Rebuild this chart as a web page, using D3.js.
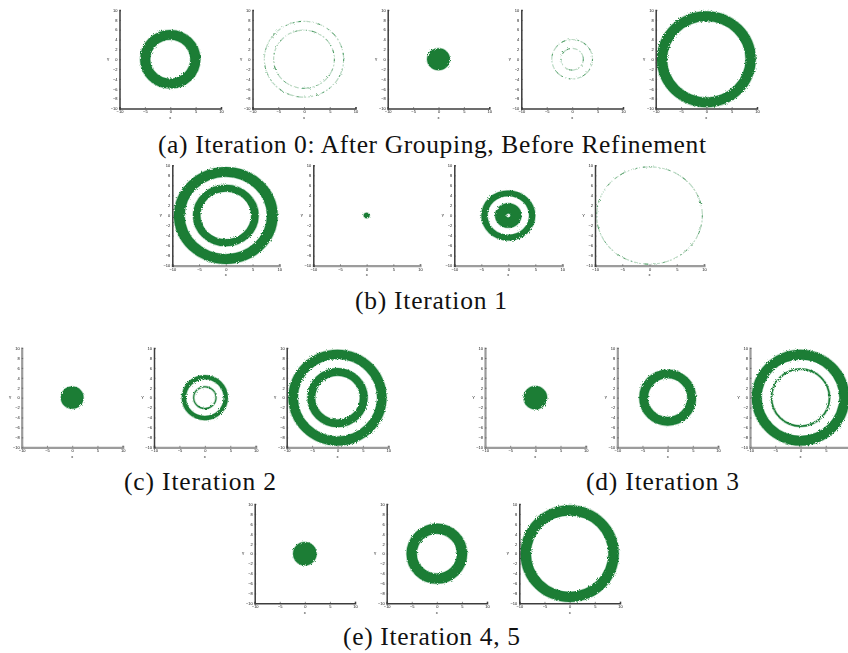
<!DOCTYPE html>
<html>
<head>
<meta charset="utf-8">
<script src="https://cdn.jsdelivr.net/npm/d3@7"></script>
<style>
	body { margin: 0; background: #fff; }
	svg { display: block; }
	.tick text { font-family: "Liberation Sans", sans-serif; }
</style>
</head>
<body>
<main></main>
<script>
const xTicks = [-10, -5, 0, 5, 10];
const yTicks = [-10, -8, -6, -4, -2, 0, 2, 4, 6, 8, 10];

// [inner, outer] radius of the solid bands, one list per panel
const denseBands = [
	[[3.95, 5.95]], [], [[0, 2.25]], [], [[7.75, 9.75]],
	[[7.7, 9.65], [4.75, 6.15]], [[0, 0.55]], [[3.85, 5.0], [0.4, 2.45]], [],
	[[0, 2.25]], [[3.7, 4.55], [2.1, 2.3]], [[7.8, 9.65], [4.4, 5.95]],
	[[0, 2.35]], [[3.9, 5.65]], [[7.7, 9.65], [5.6, 5.9]],
	[[0, 2.35]], [[4.0, 6.05]], [[7.7, 9.75]]
];

// radius of the thin, sparsely filled rings
const sparseRadii = [
	[], [5.9, 7.7], [], [2.2, 4.0], [],
	[], [], [], [9.7],
	[], [], [],
	[], [], [],
	[], [], []
];

const captions = [
	"(a) Iteration 0: After Grouping, Before Refinement",
	"(b) Iteration 1",
	"(c) Iteration 2",
	"(d) Iteration 3",
	"(e) Iteration 4, 5"
];

// layout of the page: left, right, top, bottom of every panel, and its axis look
const dark = {color: "#3c3c3c", width: 1.5};
const grey = {color: "#9c9c9c", width: 2.2};
const panels = [
	[119.5, 221, 10, 108.5, dark, dark], [252.5, 355.5, 10, 108.5, dark, dark], [387.7, 489.3, 10, 108.5, dark, dark], [521.3, 623, 10, 108.5, dark, dark], [655.7, 757, 10, 108.5, dark, dark],
	[172.3, 279.3, 165.3, 265.7, dark, grey], [313.3, 420, 165.3, 265.7, dark, grey], [454.3, 562.3, 165.3, 265.7, dark, grey], [595, 704, 165.3, 265.7, dark, grey],
	[21.7, 122.7, 348, 447.3, grey, grey], [154, 255.7, 348, 447.3, dark, grey], [286.7, 388.3, 348, 447.3, dark, grey],
	[485, 585.7, 348, 447.3, grey, grey], [617.3, 718, 348, 447.3, grey, grey], [750, 851, 348, 447.3, grey, grey],
	[254.7, 355, 504, 603.3, dark, dark], [386.7, 487, 504, 603.3, dark, dark], [519.3, 620, 504, 603.3, dark, dark]
];
const captionLayout = [
	{x: 158, len: 548, y: 153},
	{x: 355, len: 152, y: 309},
	{x: 124, len: 152, y: 490},
	{x: 586, len: 153, y: 490},
	{x: 343, len: 177, y: 645}
];

const green = "#1a7d36";
const pageWidth = 848;

let svg = d3.select("main")
	.append("svg")
	.attr("width", pageWidth)
	.attr("height", 653)
	.attr("viewBox", `0 0 ${pageWidth} 653`);

let defs = svg.append("defs");

// rough edge of the point clouds, then the soft look of the scanned figure
let addRough = (id, frequency, scale, blur) => {
	let f = defs.append("filter")
		.attr("id", id)
		.attr("x", "-15%").attr("y", "-15%")
		.attr("width", "130%").attr("height", "130%");
	f.append("feTurbulence")
		.attr("type", "fractalNoise")
		.attr("baseFrequency", frequency)
		.attr("numOctaves", 3)
		.attr("seed", 3)
		.attr("result", "noise");
	f.append("feDisplacementMap")
		.attr("in", "SourceGraphic")
		.attr("in2", "noise")
		.attr("scale", scale)
		.attr("result", "moved");
	f.append("feGaussianBlur")
		.attr("in", "moved")
		.attr("stdDeviation", blur);
};
addRough("rough", 0.9, 3, 0.35);
addRough("thin", 0.35, 2.5, 0.3);

defs.append("filter")
	.attr("id", "soft")
	.append("feGaussianBlur")
	.attr("stdDeviation", 0.25);

let drawPanel = (frame, i) => {
	const [left, right, top, bottom, yLook, xLook] = frame;
	let x = d3.scaleLinear().domain([-10, 10]).range([left, right]);
	let y = d3.scaleLinear().domain([-10, 10]).range([bottom, top]);

	let g = svg.append("g");
	let arc = d3.arc().startAngle(0).endAngle(2 * Math.PI);

	// the axes are not square, so a circle in data units is slightly oval on the page
	let aspect = (y(0) - y(1)) / (x(1) - x(0));
	let plot = g.append("g")
		.attr("transform", `translate(${x(0)},${y(0)}) scale(1,${aspect})`);

	plot.append("g")
		.attr("filter", "url(#rough)")
		.selectAll("path")
		.data(denseBands[i])
		.join("path")
		.attr("d", d => arc({
			innerRadius: x(d[0]) - x(0),
			outerRadius: x(d[1]) - x(0)
		}))
		.attr("fill", green)
		.attr("stroke", green)
		.attr("stroke-opacity", 0.3)
		.attr("stroke-width", 1.4);

	let rings = plot.append("g")
		.attr("filter", "url(#thin)")
		.selectAll("g")
		.data(sparseRadii[i])
		.join("g");
	rings.append("circle")
		.attr("r", d => x(d) - x(0))
		.attr("fill", "none")
		.attr("stroke", green)
		.attr("stroke-opacity", 0.3)
		.attr("stroke-width", 1.2)
		.attr("stroke-dasharray", "4 1.5 2 2 7 1 1 3 5 2 2 1");
	rings.append("circle")
		.attr("r", d => x(d) - x(0))
		.attr("fill", "none")
		.attr("stroke", green)
		.attr("stroke-opacity", 0.75)
		.attr("stroke-width", 1)
		.attr("stroke-dasharray", "2 9 1 5 4 13 1 6 2 4 3 17");

	// the last panel runs off the page, so its last label is not there
	let xAxis = d3.axisBottom(x)
		.tickValues(xTicks)
		.tickSize(-1.5)
		.tickPadding(2)
		.tickFormat(d => x(d) < pageWidth - 3 ? d3.format("d")(d) : "");
	let yAxis = d3.axisLeft(y).tickValues(yTicks).tickSize(-1.5).tickPadding(2).tickFormat(d3.format("d"));

	let styleAxis = (a, look) => {
		a.attr("filter", "url(#soft)");
		a.select(".domain").attr("stroke", look.color).attr("stroke-width", look.width);
		a.selectAll(".tick line").attr("stroke", "#444").attr("stroke-width", 0.6);
		a.selectAll(".tick text").attr("font-size", 4).attr("fill", "#111");
	};

	g.append("g")
		.attr("transform", `translate(0,${bottom})`)
		.call(xAxis)
		.call(a => styleAxis(a, xLook));
	g.append("g")
		.attr("transform", `translate(${left},0)`)
		.call(yAxis)
		.call(a => styleAxis(a, yLook));

	g.append("text")
		.attr("x", x(0))
		.attr("y", bottom + 10.5)
		.attr("text-anchor", "middle")
		.attr("font-family", "Liberation Sans, sans-serif")
		.attr("font-size", 4)
		.attr("fill", "#111")
		.attr("filter", "url(#soft)")
		.text("x");
	g.append("text")
		.attr("x", left - 11.5)
		.attr("y", y(0) + 1.5)
		.attr("text-anchor", "middle")
		.attr("font-family", "Liberation Sans, sans-serif")
		.attr("font-size", 4)
		.attr("fill", "#111")
		.attr("filter", "url(#soft)")
		.text("Y");
};

panels.forEach(drawPanel);

svg.append("g")
	.selectAll("text")
	.data(captions)
	.join("text")
	.attr("x", (d, i) => captionLayout[i].x)
	.attr("y", (d, i) => captionLayout[i].y)
	.attr("textLength", (d, i) => captionLayout[i].len)
	.attr("lengthAdjust", "spacing")
	.attr("font-family", "Liberation Serif, serif")
	.attr("font-size", 25.5)
	.attr("fill", "#111")
	.text(d => d);
</script>
</body>
</html>
